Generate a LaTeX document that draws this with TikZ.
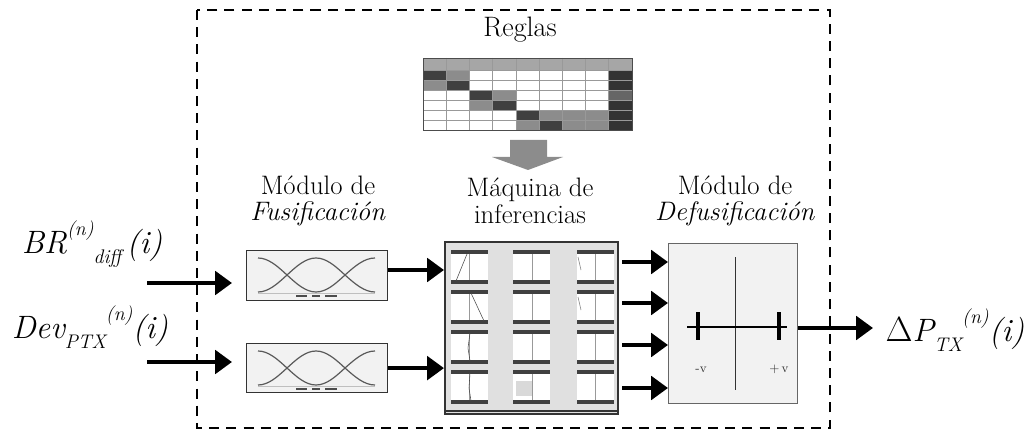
\documentclass[tikz,border=0pt]{standalone}
\usepackage{tikz}
\usetikzlibrary{arrows.meta}
\usetikzlibrary{positioning}
\newcommand{\supr}[1]{\raisebox{0.55em}{\fontsize{14}{14}\selectfont #1}}
\newcommand{\subr}[1]{\raisebox{-0.3em}{\fontsize{14}{14}\selectfont #1}}
\tikzset{
    flow/.style = {line width=1.1mm,-{Triangle[length=4.2mm,width=5.8mm]}},
    group/.style = {line width=0.7mm,dash pattern=on 2.5mm off 1.8mm},
    panel/.style = {draw=black!80,fill=black!5,line width=0.3mm,inner sep=0,anchor=north west},
    title/.style = {font=\fontsize{19}{19}\selectfont,align=center},
    signal/.style = {font=\fontsize{23}{26}\selectfont\itshape,inner sep=0},
    mf/.style = {black!65,line width=0.3mm},
    bar/.style = {black!75,line width=0.9mm}
}
\begin{document}
\begin{tikzpicture}[x=0.025cm,y=-0.025cm]
        \useasboundingbox (0,0) rectangle (1029,432);
        % Controller
        \draw[group] (197,10) rectangle (830,428);
        % Rules
        \node[title,font=\fontsize{20}{20}\selectfont] (reglas) at (520,30) {Reglas};
        \foreach \c in {1,...,9}
            \fill[black!35] ({423+(\c-1)*23.22},58) rectangle +(23.22,12);
        \foreach \r/\c/\s in {1/1/75,1/2/45,1/9/80,2/1/45,2/2/75,2/9/80,3/3/75,3/4/45,3/9/60,4/3/45,4/4/75,4/9/80,
                              5/5/75,5/6/45,5/7/45,5/8/45,5/9/80,6/5/45,6/6/75,6/7/45,6/8/45,6/9/80}
            \fill[black!\s] ({423+(\c-1)*23.22},{70+(\r-1)*10}) rectangle +(23.22,10);
        \foreach \c in {1,...,8}
            \draw[black!40,thin] ({423+\c*23.22},58) -- ({423+\c*23.22},130);
        \foreach \r in {0,...,5}
            \draw[black!40,thin] (423,{70+\r*10}) -- (632,{70+\r*10});
        \node[draw=black!70,line width=0.3mm,inner sep=0,anchor=north west,minimum width=5.225cm,minimum height=1.8cm] (rules) at (423,58) {};
        \fill[black!45] (510,140) -- (547,140) -- (547,157) -- (563,157) -- (528,170) -- (492,157) -- (510,157) -- cycle;
        % Titles
        \node[title] (tfuz) at (318,201) {Módulo de\\\textit{Fusificación}};
        \node[title] (tinf) at (530,201) {Máquina de\\inferencias};
        \node[title] (tdfz) at (735,201) {Módulo de\\\textit{Defusificación}};
        % Fuzzification
        \node[panel,minimum width=3.525cm,minimum height=1.25cm] (fuz1) at (246,250) {};
        \node[panel,minimum width=3.525cm,minimum height=1.225cm] (fuz2) at (246,343) {};
        \foreach \t in {0,93}{
            \draw[mf] (258,258+\t) cos (287,275+\t) sin (316,292+\t);
            \draw[mf] (258,292+\t) cos (287,275+\t) sin (316,258+\t) cos (345,275+\t) sin (375,292+\t);
            \draw[mf] (316,292+\t) cos (345,275+\t) sin (375,258+\t);
            \draw[black!25,thin] (258,293+\t) -- (375,293+\t);
            \foreach \a/\b in {296/307,312/320,325/337}
                \draw[black!70,line width=0.4mm] (\a,296+\t) -- (\b,296+\t);
        }
        % Inference
        \node[panel,fill=black!12,line width=0.5mm,minimum width=4.325cm,minimum height=4.3cm] (inf) at (444,241) {};
        \draw[black!80,line width=0.6mm] (444,411) -- (617,411);
        \foreach \x/\v in {451/469,513/532,577/595}
            \foreach \y in {251,291,331,371}{
                \fill[white] (\x,\y) rectangle +(37,32);
                \draw[black!40,thin] (\v,\y) -- (\v,\y+32);
                \draw[bar] (\x,\y+1) -- +(37,0);
                \draw[bar] (\x,\y+31) -- +(37,0);
            }
        \draw[black!70,thin] (456,281) -- (467,254);
        \draw[black!70,thin] (471,293) -- (484,321);
        \draw[black!50,thin] (578,257) -- (581,270);
        \draw[black!50,thin] (578,297) -- (581,310);
        \draw[black!70,thin] (470,333) -- (468,348) -- (470,361);
        \draw[black!70,thin] (470,373) -- (469,388) -- (471,401);
        \fill[black!15] (516,381) rectangle (532,396);
        % Defuzzification
        \node[panel,draw=black!60,minimum width=3.225cm,minimum height=4cm] (dfz) at (668,243) {};
        \draw[black!80,line width=0.25mm] (735,257) -- (735,390);
        \draw[black,line width=0.45mm] (687,327) -- (787,327);
        \draw[black,line width=0.9mm] (698,312) -- (698,340);
        \draw[black,line width=0.9mm] (779,312) -- (779,340);
        \node[font=\fontsize{9}{9}\selectfont,black!80] (mv) at (701,370) {-v};
        \node[font=\fontsize{9}{9}\selectfont,black!80] (pv) at (779,369) {+\,v};
        % Signals
        \node[signal] (br) at (92,244) {BR\supr{(n)}\subr{diff}\,(i)};
        \node[signal] (dev) at (90,327) {Dev\subr{PTX}\supr{(n)}(i)};
        \node[signal] (dp) at (955,330) {$\Delta$P\subr{TX}\supr{(n)}(i)};
        \coordinate (in1) at (147,283);
        \coordinate (in2) at (147,362);
        \coordinate (out) at (873,328);
        % Arrows
        \foreach \src/\dest in {in1/fuz1,in2/fuz2}
            \draw[flow,shorten >=3.5mm] (\src) -- (\src -| \dest.west);
        \draw[flow] (fuz1.east |- 0,270) -- (inf.west |- 0,270);
        \draw[flow] (fuz2.east) -- (inf.west |- fuz2.east);
        \foreach \y in {262,303,345,388}
            \draw[flow] (622,\y) -- (dfz.west |- 0,\y);
        \draw[flow] (dfz.east |- out) -- (out);
    \end{tikzpicture}
\end{document}
